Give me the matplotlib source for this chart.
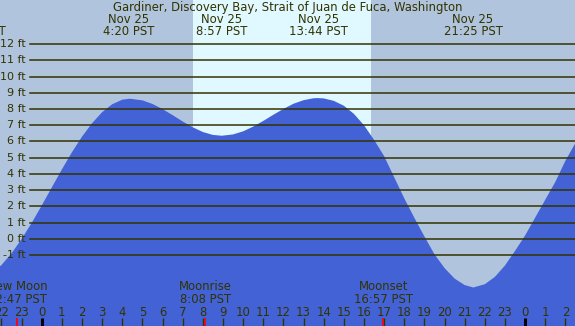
import matplotlib
matplotlib.use("Agg")
import matplotlib.pyplot as plt
from matplotlib.transforms import blended_transform_factory

# tide heights (ft), hours from midnight Nov 25 (PST)
hours = [-2.5, -2.0, -1.5, -1.0, -0.5, 0.0, 0.5, 1.0, 1.5, 2.0, 2.5, 3.0, 3.5, 4.0, 4.38,
         5.0, 5.5, 6.0, 6.5, 7.0, 7.5, 8.0, 8.5, 8.94,
         9.5, 10.0, 10.5, 11.0, 11.5, 12.0, 12.5, 13.0, 13.5, 13.72,
         14.0, 14.5, 15.0, 15.5, 16.0, 16.5, 17.0, 17.5, 18.0, 18.5, 19.0, 19.5, 20.0, 20.5, 21.0, 21.43,
         22.0, 22.5, 23.0, 23.5, 24.0, 24.5, 25.0, 25.5, 26.0, 26.5, 27.0]
heights = [-2.15, -1.62, -0.90, -0.02, 0.97, 2.05, 3.16, 4.27, 5.33, 6.29, 7.12, 7.80, 8.29, 8.57, 8.63,
           8.53, 8.31, 7.99, 7.62, 7.23, 6.87, 6.58, 6.40, 6.35,
           6.43, 6.62, 6.91, 7.26, 7.64, 8.00, 8.32, 8.54, 8.66, 8.67,
           8.65, 8.50, 8.20, 7.70, 7.00, 6.10, 5.10, 3.80, 2.50, 1.30, 0.15, -0.95, -1.80, -2.45, -2.85, -3.00,
           -2.80, -2.35, -1.65, -0.75, 0.20, 1.30, 2.40, 3.50, 4.80, 5.90, 7.00]

title = "Gardiner, Discovery Bay, Strait of Juan de Fuca, Washington"

# high / low events shown along the top
event_hours = [-3.24, 4.333, 8.95, 13.733, 21.417]
event_labels = ["Nov 24\n20:46 PST", "Nov 25\n4:20 PST", "Nov 25\n8:57 PST",
                "Nov 25\n13:44 PST", "Nov 25\n21:25 PST"]

# moon events along the bottom
moon_hours = [-1.217, 8.133, 16.95]
moon_labels = ["New Moon\n22:47 PST", "Moonrise\n8:08 PST", "Moonset\n16:57 PST"]

sunrise, sunset = 7.53, 16.35
ft_levels = list(range(-1, 13))
hour_ticks = list(range(-2, 27))

night = "#B0C4DE"
day = "#E0F8FF"
water = "#4262D6"
ink = "#333300"
fs = 8.4

W, H = 575, 326
fig = plt.figure(figsize=(W / 100, H / 100), dpi=100)
ax = fig.add_axes([0, 0, 1, 1])
x0 = -41.7 / 20.14
x1 = x0 + W / 20.14
ybot = (238.8 - H) / 16.23
ytop = 238.8 / 16.23
ax.set_xlim(x0, x1)
ax.set_ylim(ybot, ytop)
ax.axis("off")
ax.set_facecolor(night)
fig.patch.set_facecolor(night)

ax.axvspan(sunrise, sunset, color=day, lw=0, zorder=1)
ax.fill_between(hours, heights, ybot - 1, color=water, lw=0, zorder=2)

for lev in ft_levels:
    ax.axhline(lev, xmin=30 / W, xmax=1, color=ink, lw=1.1, zorder=3)
    ax.text(x0 + 26 / 20.14, lev, f"{lev} ft", ha="right", va="center",
            fontsize=8, color=ink, zorder=4)

tr = blended_transform_factory(ax.transData, fig.transFigure)

def fy(py):
    return 1 - py / H

fig.text(0.5, fy(7.5), title, ha="center", va="center", fontsize=fs, color=ink)

for h, lab in zip(event_hours, event_labels):
    ax.text(h, fy(25.5), lab, transform=tr, ha="center", va="center",
            fontsize=fs, color=ink, linespacing=0.92)

for h, lab in zip(moon_hours, moon_labels):
    ax.text(h, fy(293), lab, transform=tr, ha="center", va="center",
            fontsize=fs, color=ink, linespacing=0.92)

for h in hour_ticks:
    ax.text(h, fy(312), str(h % 24), transform=tr, ha="center", va="center",
            fontsize=fs, color=ink)
    if h % 24 == 0:
        ax.plot([h, h], [fy(318), fy(326)], transform=tr, color="black", lw=2.2,
                solid_capstyle="butt", zorder=5)
    else:
        ax.plot([h, h], [fy(318), fy(326)], transform=tr, color=ink, lw=1.0,
                solid_capstyle="butt", zorder=5)

for h in moon_hours:
    ax.plot([h, h], [fy(318), fy(326)], transform=tr, color="red", lw=1.2,
            solid_capstyle="butt", zorder=6)

fig.savefig("out.png", dpi=100, facecolor=night)
